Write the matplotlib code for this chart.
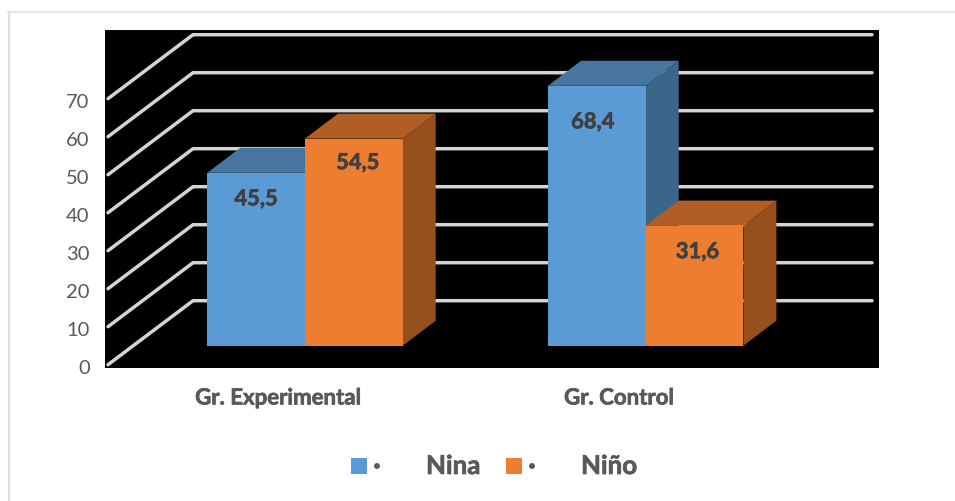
import matplotlib
matplotlib.use("Agg")
import matplotlib.pyplot as plt
import matplotlib.patheffects as pe
from matplotlib.patches import Polygon, Rectangle
from matplotlib.lines import Line2D
from matplotlib.transforms import ScaledTranslation

plt.rcParams['font.family'] = ['Lato', 'DejaVu Sans']

# datos
grupos = ['Gr. Experimental', 'Gr. Control']
nina = [45.5, 68.4]
nino = [54.5, 31.6]
ticks = [0, 10, 20, 30, 40, 50, 60, 70, 80]

W, H = 955, 502
# zona negra del grafico, en pixeles
X0, X1, Y0, Y1 = 105, 879, 30.5, 369
PX_CAT = 340.7   # pixeles por categoria
PX_VAL = 3.8     # pixeles por unidad

AZUL = ['#5b9bd5', '#46759f', '#3c658a']
NARANJA = ['#ed7d31', '#b15e24', '#96501e']
GRIS = '#595959'

# desplazamiento de cada etiqueta respecto al centro y al tope de su barra (px)
etiq_nina = [(0, 26), (-4, 36)]
etiq_nino = [(4, 24), (3, 26)]


# engrosa un poco la negrita
def grueso(color):
    return [pe.withStroke(linewidth=0.5, foreground=color)]


fig = plt.figure(figsize=(W / 100, H / 100), dpi=100, facecolor='white')

# marco exterior
fig.add_artist(Line2D([8.5 / W, 8.5 / W], [0, 1 - 12.5 / H], color='#dedede', lw=1.6))
fig.add_artist(Line2D([7.5 / W, 1], [1 - 12.5 / H, 1 - 12.5 / H], color='#dedede', lw=1.2))

ax = fig.add_axes([X0 / W, 1 - Y1 / H, (X1 - X0) / W, (Y1 - Y0) / H])
ax.set_facecolor('black')
ax.set_xlim((X0 - 305) / PX_CAT, (X1 - 305) / PX_CAT)
ax.set_ylim(-(369 - 365.7) / PX_VAL, (365.7 - Y0) / PX_VAL)
for s in ax.spines.values():
    s.set_visible(False)

# profundidad del fondo y de las barras
fondo_dx = 85 / PX_CAT
fondo_dy = 64 / PX_VAL
barra_dx = 33 / PX_CAT
barra_dy = 25 / PX_VAL
base = 19 / PX_VAL
ancho = 97.7 / PX_CAT

# rejilla: pared lateral y pared del fondo
x_ini = (108 - 305) / PX_CAT
x_fin = (872 - 305) / PX_CAT
for t in ticks[:-1]:
    ax.plot([x_ini, x_ini + fondo_dx, x_fin], [t, t + fondo_dy, t + fondo_dy],
            color='#d4d4d4', lw=2.5, solid_capstyle='round', solid_joinstyle='miter', zorder=1)


def barra_3d(x, valor, colores, z, etiq):
    tope = base + valor
    frente = Rectangle((x, base), ancho, valor, fc=colores[0], ec='none', zorder=z + 1)
    arriba = Polygon([(x, tope), (x + ancho, tope),
                      (x + ancho + barra_dx, tope + barra_dy), (x + barra_dx, tope + barra_dy)],
                     fc=colores[1], ec='none', zorder=z)
    lado = Polygon([(x + ancho, base), (x + ancho + barra_dx, base + barra_dy),
                    (x + ancho + barra_dx, tope + barra_dy), (x + ancho, tope)],
                   fc=colores[2], ec='none', zorder=z)
    ax.add_patch(lado)
    ax.add_patch(arriba)
    ax.add_patch(frente)
    # etiqueta con coma decimal
    ax.text(x + ancho / 2 + etiq[0] / PX_CAT, tope - etiq[1] / PX_VAL,
            f'{valor:.1f}'.replace('.', ','), ha='center', va='center',
            fontsize=15.8, fontweight='bold', color='#404040', zorder=z + 2,
            path_effects=grueso('#404040'))


for i in range(len(grupos)):
    barra_3d(i - ancho, nina[i], AZUL, 2, etiq_nina[i])
    barra_3d(i, nino[i], NARANJA, 4, etiq_nino[i])

ax.set_yticks(ticks[:-1])
ax.tick_params(axis='y', length=0, pad=11, labelsize=14.5, labelcolor=GRIS)
# baja las etiquetas del eje y un par de pixeles
bajar = ScaledTranslation(0, -1.5 / 100, fig.dpi_scale_trans)
for etiqueta in ax.get_yticklabels():
    etiqueta.set_transform(etiqueta.get_transform() + bajar)

ax.set_xticks([i - 26.5 / PX_CAT for i in range(len(grupos))])
ax.set_xticklabels(grupos, fontsize=16, fontweight='bold', color=GRIS, path_effects=grueso(GRIS))
ax.tick_params(axis='x', length=0, pad=14)

# leyenda
leyenda = [(351, AZUL[0], 377, 426, 'Nina'), (506, NARANJA[0], 532, 581, 'Niño')]
for x_cuadro, color, x_punto, x_texto, texto in leyenda:
    fig.add_artist(Rectangle((x_cuadro / W, 1 - 475 / H), 16 / W, 16 / H,
                             fc=color, ec='none', transform=fig.transFigure))
    fig.text(x_punto / W, 1 - 466.5 / H, '\u2022', fontsize=10, fontweight='bold',
             color=GRIS, ha='center', va='center')
    fig.text(x_texto / W, 1 - 467 / H, texto, fontsize=18.7, fontweight='bold',
             color=GRIS, ha='left', va='center', path_effects=grueso(GRIS))

fig.savefig('out.png', dpi=100, facecolor='white')
